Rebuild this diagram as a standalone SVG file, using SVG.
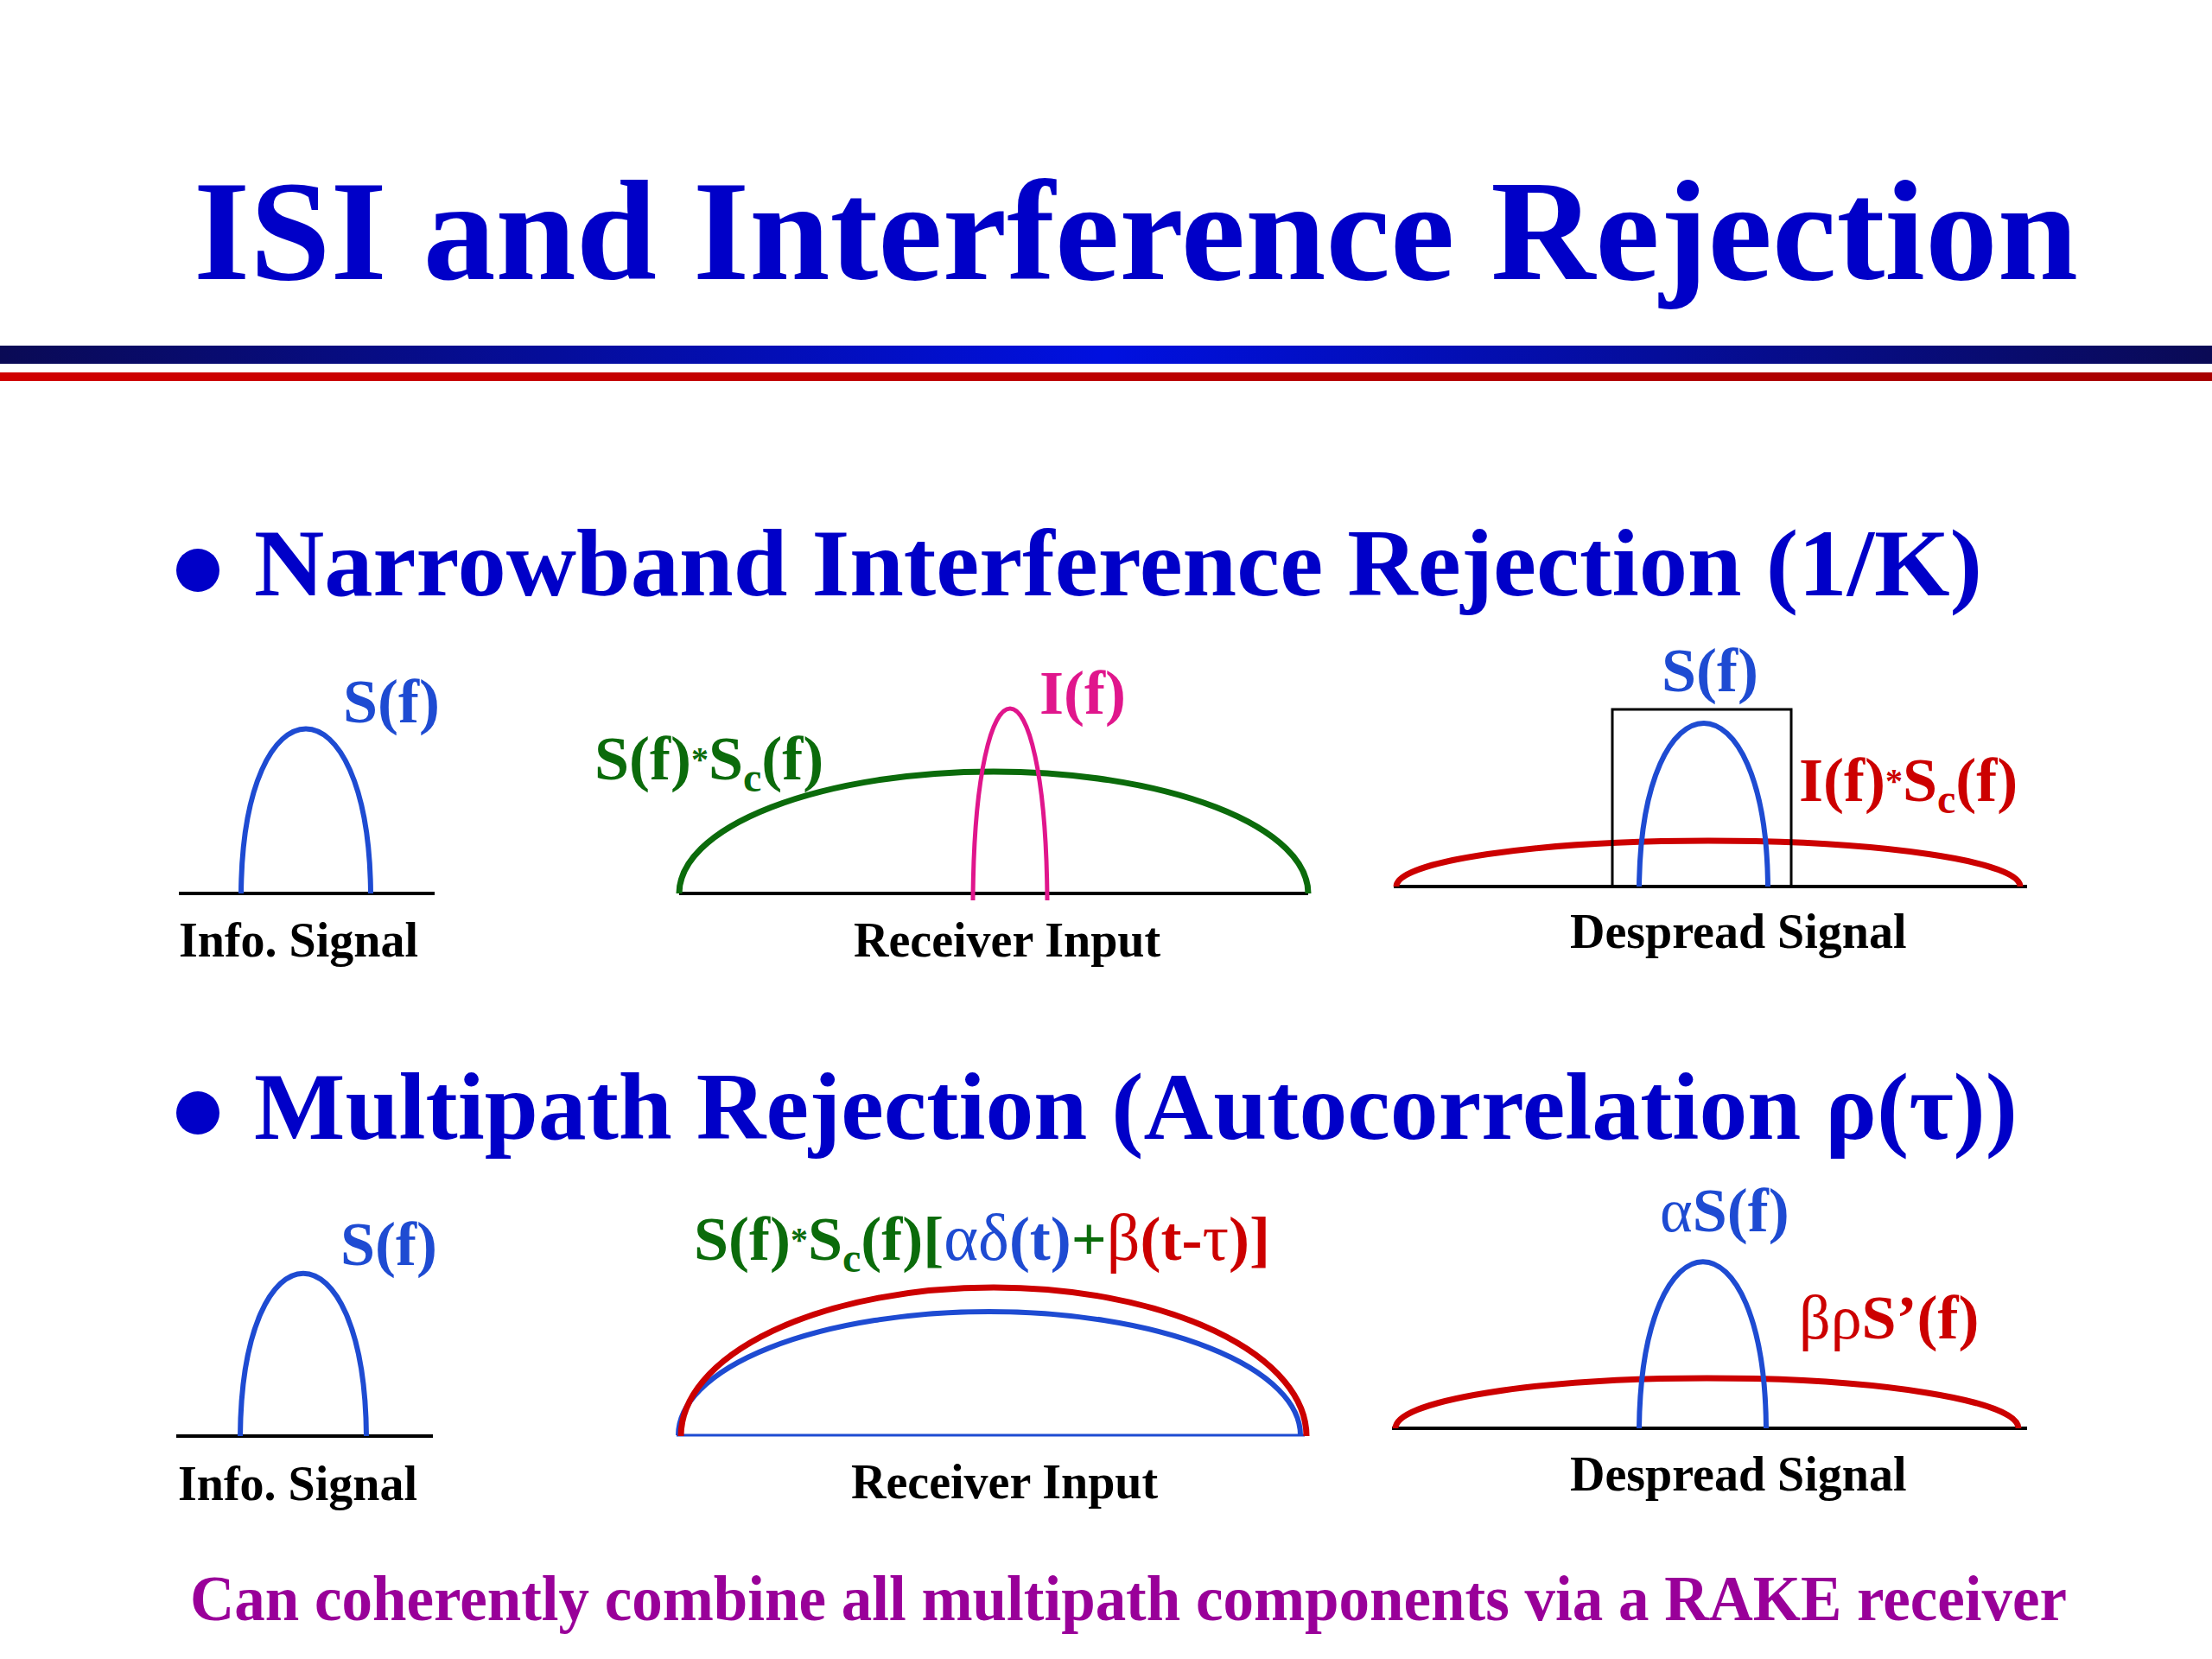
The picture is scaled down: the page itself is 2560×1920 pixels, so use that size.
<svg xmlns="http://www.w3.org/2000/svg" width="2560" height="1920" viewBox="0 0 2560 1920">
<defs>
<linearGradient id="gBlue" x1="0" y1="0" x2="1" y2="0">
<stop offset="0" stop-color="#0a0a55"/>
<stop offset="0.5" stop-color="#0010e0"/>
<stop offset="1" stop-color="#0a0a55"/>
</linearGradient>
<linearGradient id="gRed" x1="0" y1="0" x2="1" y2="0">
<stop offset="0" stop-color="#d00000"/>
<stop offset="1" stop-color="#a80000"/>
</linearGradient>
</defs>
<style>
text{font-family:"Liberation Serif","Times New Roman",serif;font-weight:bold}
.title{font-size:166px;fill:#0000c8}
.bul{font-size:110px;fill:#0000c8}
.lbl{font-size:56px;fill:#000}
.sym{font-size:72px}
.blue{fill:#1e4bd2}
.green{fill:#0b6b0b}
.red{fill:#cc0000}
.pink{fill:#e0168c}
.greek{font-weight:normal}
.bg{font-size:76px}
.ast{font-size:40px}
.sub{font-size:48px}
.axis{stroke:#000;stroke-width:4;fill:none}
.cb{stroke:#1e4bd2;stroke-width:6;fill:none}
.cg{stroke:#0b6b0b;stroke-width:7;fill:none}
.cr{stroke:#cc0000;stroke-width:7;fill:none}
.cp{stroke:#e0168c;stroke-width:5;fill:none}
.bottom{font-size:74px;fill:#990099}
</style>
<rect width="2560" height="1920" fill="#fff"/>

<g id="header">
<text class="title" x="224" y="323" textLength="2181" lengthAdjust="spacingAndGlyphs">ISI and Interference Rejection</text>
<rect x="0" y="400" width="2560" height="21" fill="url(#gBlue)"/>
<rect x="0" y="431" width="2560" height="10" fill="url(#gRed)"/>
</g>

<g id="bullet1">
<circle cx="229" cy="660" r="25" fill="#0000c8"/>
<text class="bul" x="294" y="689" textLength="2000" lengthAdjust="spacingAndGlyphs">Narrowband Interference Rejection (1/K)</text>
</g>

<g id="bullet2">
<circle cx="229" cy="1288" r="25" fill="#0000c8"/>
<text class="bul" x="294" y="1318" textLength="2041" lengthAdjust="spacingAndGlyphs">Multipath Rejection (Autocorrelation ρ(τ))</text>
</g>

<g id="row1-info">
<line class="axis" x1="207" y1="1034" x2="503" y2="1034"/>
<path class="cb" d="M279,1034 C281,780 427,780 429,1034"/>
<text class="sym blue" x="397" y="836">S(f)</text>
<text class="lbl" x="207" y="1107">Info. Signal</text>
</g>

<g id="row1-receiver">
<line class="axis" x1="786" y1="1034" x2="1514" y2="1034"/>
<path class="cg" d="M786,1034 A364,141 0 0 1 1514,1034"/>
<path class="cp" d="M1126,1042 C1128,746 1210,746 1212,1042"/>
<text class="sym pink" x="1203" y="826">I(f)</text>
<text class="sym green" x="688" y="902">S(f)<tspan class="ast" dy="-10">*</tspan><tspan dy="10">S</tspan><tspan class="sub" dy="14">c</tspan><tspan dy="-14">(f)</tspan></text>
<text class="lbl" x="988" y="1107">Receiver Input</text>
</g>

<g id="row1-despread">
<line class="axis" x1="1613" y1="1026" x2="2346" y2="1026"/>
<path class="cr" d="M1616,1026 A361,53 0 0 1 2338,1026"/>
<rect x="1866" y="821" width="207" height="205" fill="none" stroke="#000" stroke-width="3"/>
<path class="cb" d="M1897,1026 C1900,774 2044,774 2046,1026"/>
<text class="sym blue" x="1923" y="800">S(f)</text>
<text class="sym red" x="2082" y="927">I(f)<tspan class="ast" dy="-10">*</tspan><tspan dy="10">S</tspan><tspan class="sub" dy="14">c</tspan><tspan dy="-14">(f)</tspan></text>
<text class="lbl" x="1817" y="1097">Despread Signal</text>
</g>

<g id="row2-info">
<line class="axis" x1="204" y1="1662" x2="501" y2="1662"/>
<path class="cb" d="M278,1662 C280,1411 422,1411 424,1662"/>
<text class="sym blue" x="394" y="1464">S(f)</text>
<text class="lbl" x="206" y="1736">Info. Signal</text>
</g>

<g id="row2-receiver">
<line x1="783" y1="1661" x2="1510" y2="1661" stroke="#1e4bd2" stroke-width="3"/>
<path class="cb" d="M785,1661 A360,143 0 0 1 1505,1661"/>
<path class="cr" d="M788,1662 A362,172 0 0 1 1512,1662"/>
<text class="sym" x="803" y="1458"><tspan class="green">S(f)</tspan><tspan class="green ast" dy="-10">*</tspan><tspan class="green" dy="10">S</tspan><tspan class="green sub" dy="14">c</tspan><tspan class="green" dy="-14">(f)[</tspan><tspan class="blue greek bg">α</tspan><tspan class="blue greek bg">δ</tspan><tspan class="blue">(t)</tspan><tspan class="green">+</tspan><tspan class="red greek bg">β</tspan><tspan class="red">(t-</tspan><tspan class="red greek bg">τ</tspan><tspan class="red">)]</tspan></text>
<text class="lbl" x="985" y="1734">Receiver Input</text>
</g>

<g id="row2-despread">
<line class="axis" x1="1611" y1="1653" x2="2346" y2="1653"/>
<path class="cr" d="M1615,1653 A360,58 0 0 1 2336,1653"/>
<path class="cb" d="M1897,1653 C1900,1396 2042,1396 2044,1653"/>
<text class="sym blue" x="1921" y="1425"><tspan class="greek">α</tspan>S(f)</text>
<text class="sym red" x="2082" y="1549"><tspan class="greek">βρ</tspan>S’(f)</text>
<text class="lbl" x="1817" y="1725">Despread Signal</text>
</g>

<g id="footer">
<text class="bottom" x="220" y="1875" textLength="2172" lengthAdjust="spacingAndGlyphs">Can coherently combine all multipath components via a RAKE receiver</text>
</g>
</svg>
